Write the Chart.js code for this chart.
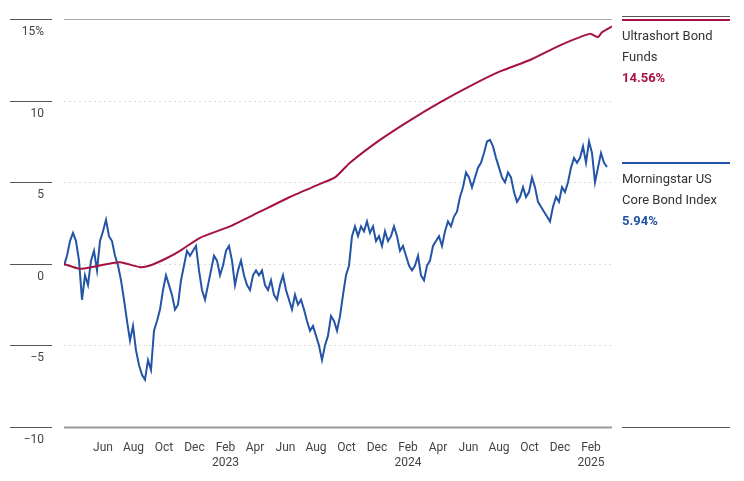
<!DOCTYPE html>
<html><head><meta charset="utf-8">
<script src="https://cdn.jsdelivr.net/npm/chart.js@4/dist/chart.umd.min.js"></script>
<style>html,body{margin:0;padding:0;background:#fff}#w{width:744px;height:481px}</style>
</head><body><div id="w"><canvas id="c"></canvas></div>
<script>
const startDate = '2022-03-15';
const endDate = '2025-03-15';
const blueStepDays = 6;
const blueValues = [-0.1,0.5,1.4,1.9,1.4,0.2,-2.2,-0.7,-1.3,0.2,0.8,-0.4,1.4,2.0,2.7,1.7,1.4,0.5,-0.1,-1.0,-2.2,-3.5,-4.7,-3.8,-5.3,-6.2,-6.8,-7.1,-5.9,-6.5,-4.1,-3.5,-2.8,-1.6,-0.7,-1.3,-1.9,-2.8,-2.5,-1.0,-0.1,0.8,0.5,0.8,1.1,-0.4,-1.6,-2.2,-1.3,-0.4,0.5,0.2,-0.7,-0.1,0.8,1.1,0.2,-1.3,-0.4,0.2,-0.7,-1.3,-1.6,-0.7,-0.4,-0.7,-0.4,-1.3,-1.6,-1.0,-1.9,-2.2,-1.3,-0.7,-1.6,-2.2,-2.8,-1.9,-2.5,-2.2,-2.8,-3.5,-4.1,-3.8,-4.4,-5.0,-5.9,-5.0,-4.4,-3.2,-3.5,-4.1,-3.2,-1.9,-0.7,-0.1,1.7,2.3,1.7,2.3,2.0,2.6,1.9,2.3,1.4,1.7,1.1,2.0,1.4,1.7,2.3,1.7,0.8,1.1,0.5,-0.1,-0.4,-0.1,0.5,-0.7,-1.0,-0.1,0.2,1.1,1.4,1.7,1.1,2.0,2.6,2.3,2.9,3.2,4.1,4.7,5.6,5.3,4.7,5.3,5.9,6.2,6.8,7.5,7.6,7.2,6.5,5.9,5.3,5.0,5.6,5.3,4.4,3.8,4.1,4.7,4.1,4.4,5.3,4.7,3.8,3.5,3.2,2.9,2.6,3.5,4.1,3.8,4.7,4.4,5.0,5.9,6.5,6.2,6.5,7.2,6.2,7.5,6.8,5.0,5.9,6.8,6.2,5.94];
const redDates = ['2022-03-15','2022-04-16','2022-05-26','2022-07-05','2022-08-14','2022-09-03','2022-10-03','2022-11-02','2022-12-12','2023-02-10','2023-04-11','2023-06-10','2023-08-09','2023-09-08','2023-10-08','2023-12-07','2024-02-05','2024-04-05','2024-06-04','2024-08-03','2024-10-02','2024-12-01','2025-01-30','2025-02-15','2025-02-23','2025-03-15'];
const redValues = [0,-0.3,-0.1,0.1,-0.2,-0.1,0.3,0.8,1.6,2.3,3.2,4.1,4.9,5.3,6.2,7.6,8.8,9.9,10.9,11.8,12.5,13.4,14.1,13.9,14.2,14.56];
const yTicks = [15,10,5,0,-5,-10];
const monthNames = ['Jan','Feb','Mar','Apr','May','Jun','Jul','Aug','Sep','Oct','Nov','Dec'];
const seriesNames = [['Ultrashort Bond','Funds'],['Morningstar US','Core Bond Index']];
const seriesFinal = ['14.56%','5.94%'];
const RED='#a5123f', BLUE='#2354a6';

const t0 = Date.parse(startDate), DAY=86400000;
const dayOf = s => (Date.parse(s)-t0)/DAY;
const blueData = blueValues.map((v,i)=>({x:i*blueStepDays,y:v}));
const redData = redValues.map((v,i)=>({x:dayOf(redDates[i]),y:v}));
const endDay = dayOf(endDate);
const monthTicks=[];
for(let d=new Date(Date.UTC(2022,5,1)); d<=new Date(endDate); d.setUTCMonth(d.getUTCMonth()+2)) monthTicks.push((d-t0)/DAY);

const deco = {id:'deco',
 beforeDatasetsDraw(ch){const c=ch.ctx,a=ch.chartArea,y=ch.scales.y;
  c.save();
  yTicks.forEach(t=>{const p=Math.round(y.getPixelForValue(t))+0.5;
   c.setLineDash([]);c.strokeStyle='#555';c.lineWidth=1;
   c.beginPath();c.moveTo(10,p);c.lineTo(52,p);c.stroke();
   if(t===15){c.strokeStyle='#aaa';c.beginPath();c.moveTo(a.left,p);c.lineTo(a.right,p);c.stroke();}
   else if(t===-10){c.strokeStyle='#999';c.lineWidth=2;c.beginPath();c.moveTo(a.left,p);c.lineTo(a.right,p);c.stroke();}
   else{c.strokeStyle='#ddd';c.setLineDash([2,3]);c.beginPath();c.moveTo(a.left,p);c.lineTo(a.right,p);c.stroke();}
  });
  c.restore();},
 afterDraw(ch){const c=ch.ctx;c.save();
  const L=622,R=730;
  c.strokeStyle='#555';c.lineWidth=1;
  [16.5,427.5].forEach(p=>{c.beginPath();c.moveTo(L,p);c.lineTo(R,p);c.stroke();});
  c.lineWidth=2;c.strokeStyle=RED;c.beginPath();c.moveTo(L,20);c.lineTo(R,20);c.stroke();
  c.strokeStyle=BLUE;c.beginPath();c.moveTo(L,163);c.lineTo(R,163);c.stroke();
  c.textBaseline='middle';c.textAlign='left';
  [[37,0,RED],[180,1,BLUE]].forEach(([y0,i,col])=>{
   c.font='13px Roboto';c.fillStyle='#333';
   c.fillText(seriesNames[i][0],L,y0);c.fillText(seriesNames[i][1],L,y0+21);
   c.font='bold 13px Roboto';c.fillStyle=col;c.fillText(seriesFinal[i],L,y0+42);
  });
  c.restore();}
};

new Chart(document.getElementById('c'),{
 type:'line',
 data:{datasets:[
  {data:redData,borderColor:RED,borderWidth:2,pointRadius:0,tension:0.2},
  {data:blueData,borderColor:BLUE,borderWidth:2,pointRadius:0,tension:0}
 ]},
 options:{responsive:true,maintainAspectRatio:false,animation:false,
  layout:{padding:{top:15,right:132,left:0,bottom:0}},
  plugins:{legend:{display:false},tooltip:{enabled:false}},
  scales:{
   x:{type:'linear',min:0,max:endDay,
    afterBuildTicks(s){s.ticks=monthTicks.map(v=>({value:v}));},
    afterFit(s){s.height=54;},
    grid:{display:false},border:{display:false},
    ticks:{autoSkip:false,maxRotation:0,color:'#444',font:{family:'Roboto',size:12},padding:6,
     callback(v){const d=new Date(t0+v*DAY);const m=monthNames[d.getUTCMonth()];
      return d.getUTCMonth()===1?[m,String(d.getUTCFullYear())]:m;}}},
   y:{min:-10,max:15,
    afterBuildTicks(s){s.ticks=yTicks.map(v=>({value:v}));},
    afterFit(s){s.width=64;},
    grid:{display:false},border:{display:false},
    ticks:{color:'#444',font:{family:'Roboto',size:12},padding:12,labelOffset:13,
     callback:v=>v===15?'15%':(v<0?'\u2212'+Math.abs(v):String(v))}}
  }},
 plugins:[deco]});
</script></body></html>
